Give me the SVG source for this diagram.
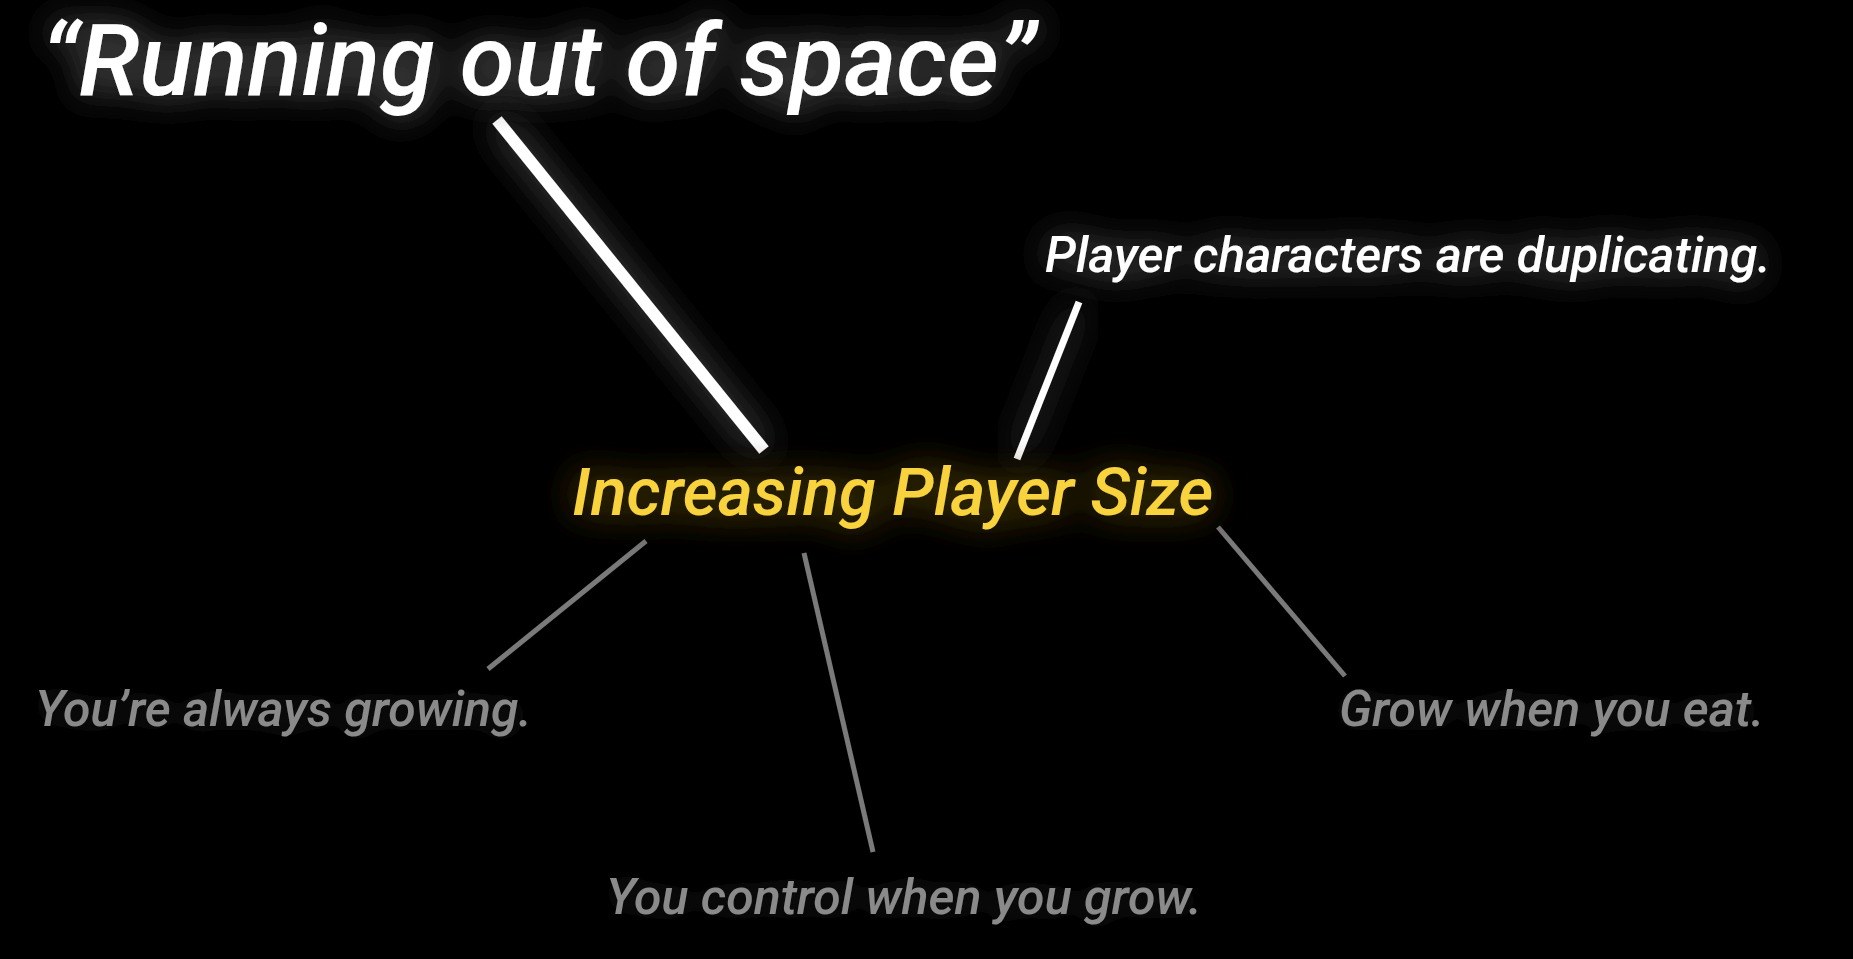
<svg xmlns="http://www.w3.org/2000/svg" width="1853" height="959" viewBox="0 0 1853 959">
  <defs>
    <filter id="glowW" x="-30%" y="-60%" width="160%" height="220%">
      <feGaussianBlur in="SourceAlpha" stdDeviation="18" result="b"/>
      <feFlood flood-color="#454545"/>
      <feComposite in2="b" operator="in" result="g"/>
      <feMerge><feMergeNode in="g"/><feMergeNode in="g"/><feMergeNode in="SourceGraphic"/></feMerge>
    </filter>
    <filter id="glowY" x="-30%" y="-80%" width="160%" height="260%">
      <feGaussianBlur in="SourceAlpha" stdDeviation="20" result="b"/>
      <feFlood flood-color="#4a3c08"/>
      <feComposite in2="b" operator="in" result="g"/>
      <feMerge><feMergeNode in="g"/><feMergeNode in="g"/><feMergeNode in="SourceGraphic"/></feMerge>
    </filter>
    <filter id="glowG" x="-30%" y="-60%" width="160%" height="220%">
      <feGaussianBlur in="SourceAlpha" stdDeviation="12" result="b"/>
      <feFlood flood-color="#1c1c1c"/>
      <feComposite in2="b" operator="in" result="g"/>
      <feMerge><feMergeNode in="g"/><feMergeNode in="SourceGraphic"/></feMerge>
    </filter>
  </defs>
  <style>
    text { font-family: Roboto, "Liberation Sans", sans-serif; font-style: italic; font-weight: 500; }
    .white { fill: #ffffff; filter: url(#glowW); }
    .yellow { fill: #f9d33c; filter: url(#glowY); }
    .grey { fill: #8a8a8a; filter: url(#glowG); }
    .lw { stroke: #ffffff; fill: none; filter: url(#glowW); }
    .lg { stroke: #7a7a7a; fill: none; stroke-width: 5; filter: url(#glowG); }
  </style>
  <rect width="1853" height="959" fill="#000"/>
  <g id="connectors">
    <line class="lw" x1="497" y1="120" x2="764" y2="450" stroke-width="12"/>
    <line class="lw" x1="1079" y1="302" x2="1017" y2="459" stroke-width="7"/>
    <line class="lg" x1="646" y1="541" x2="488" y2="669"/>
    <line class="lg" x1="804" y1="553" x2="873" y2="852"/>
    <line class="lg" x1="1218" y1="527" x2="1345" y2="676"/>
  </g>
  <g id="node-title">
    <text class="white" x="41" y="95" font-size="100">“Running out of space”</text>
  </g>
  <g id="node-duplicating">
    <text class="white" x="1045" y="272" font-size="50">Player characters are duplicating.</text>
  </g>
  <g id="node-center">
    <text class="yellow" x="572" y="515" font-size="67">Increasing Player Size</text>
  </g>
  <g id="node-always">
    <text class="grey" x="35" y="726" font-size="50">You’re always growing.</text>
  </g>
  <g id="node-eat">
    <text class="grey" x="1339" y="726" font-size="50">Grow when you eat.</text>
  </g>
  <g id="node-control">
    <text class="grey" x="606" y="914" font-size="50">You control when you grow.</text>
  </g>
</svg>
